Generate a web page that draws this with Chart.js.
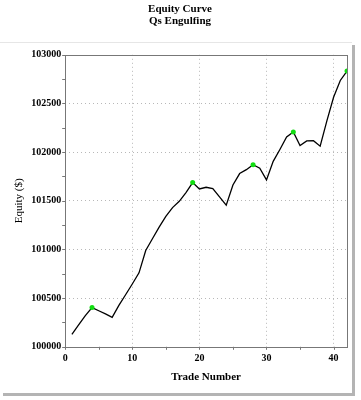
<!DOCTYPE html>
<html>
<head>
<meta charset="utf-8">
<script src="https://cdn.jsdelivr.net/npm/chart.js"></script>
<style>
  body { margin: 0; background: #fff; }
  #frame {
    position: absolute; left: 0; top: 42px; width: 352px; height: 350px;
    border-top: 1px solid #e6e6e6;
    box-shadow: 3px 3px 0 #b4b4b4;
  }
  #equity { position: absolute; left: 0; top: 0; }
</style>
</head>
<body>
<div id="frame"></div>
<canvas id="equity" width="361" height="400"></canvas>
<script>
// trade numbers and closing equity after each trade
var trades = [1, 2, 3, 4, 5, 6, 7, 8, 9, 10, 11, 12, 13, 14, 15, 16, 17, 18, 19, 20, 21,
              22, 23, 24, 25, 26, 27, 28, 29, 30, 31, 32, 33, 34, 35, 36, 37, 38, 39, 40, 41, 42];
var equity = [100127, 100225, 100320, 100403, 100370, 100338, 100303, 100425, 100535, 100645,
              100760, 100990, 101110, 101230, 101340, 101430, 101495, 101585, 101687, 101622,
              101639, 101625, 101540, 101456, 101663, 101780, 101820, 101871, 101835, 101715,
              101905, 102027, 102155, 102207, 102068, 102115, 102118, 102061, 102321, 102563,
              102736, 102833];
// trades marked with a green dot
var peakTrades = [4, 19, 28, 34, 42];

var xTicks = [0, 10, 20, 30, 40];
var yTicks = [100000, 100500, 101000, 101500, 102000, 102500, 103000];

var serif = 'Liberation Serif, Times New Roman, serif';

var points = [];
trades.forEach(function(t, i){
    points.push({x: t, y: equity[i]});
});

function isPeak(ctx){
    var p = ctx.raw;
    return p && peakTrades.indexOf(p.x) !== -1;
}

// box around plot + small outside tick marks
var frameBox = {
    id: 'frameBox',
    afterDraw: function(chart){
        var c = chart.ctx, a = chart.chartArea;
        var xs = chart.scales.x, ys = chart.scales.y;
        c.save();
        c.strokeStyle = '#777';
        c.lineWidth = 1;
        c.strokeRect(Math.round(a.left) + 0.5, Math.round(a.top) + 0.5,
                     Math.round(a.right - a.left), Math.round(a.bottom - a.top));
        c.beginPath();
        ys.ticks.forEach(function(t){
            var y = Math.round(ys.getPixelForValue(t.value)) + 0.5;
            c.moveTo(a.left - 3, y); c.lineTo(a.left, y);
        });
        xs.ticks.forEach(function(t){
            if (t.value % 5 !== 0) return;
            var x = Math.round(xs.getPixelForValue(t.value)) + 0.5;
            c.moveTo(x, a.bottom); c.lineTo(x, a.bottom + 3);
        });
        c.stroke();
        c.restore();
    }
};

new Chart(document.getElementById('equity'), {
    type: 'line',
    data: {
        datasets: [
            {
                label: 'Equity',
                data: points,
                borderColor: '#000',
                borderWidth: 1.3,
                tension: 0,
                pointRadius: function(ctx){ return isPeak(ctx) ? 2.5 : 0; },
                pointBackgroundColor: '#11dd11',
                pointBorderWidth: 0,
                pointHoverRadius: 0
            }
        ]
    },
    options: {
        responsive: false,
        animation: false,
        layout: { padding: { left: 13, right: 14, top: 0, bottom: 16 } },
        plugins: {
            legend: { display: false },
            tooltip: { enabled: false },
            title: {
                display: true,
                text: ['Equity Curve', 'Qs Engulfing'],
                color: '#000',
                font: { family: serif, size: 11, weight: 'bold', lineHeight: 1.15 },
                padding: { top: 2.5, bottom: 27 }
            }
        },
        scales: {
            x: {
                type: 'linear',
                min: 0,
                max: 42,
                ticks: {
                    stepSize: 5,
                    includeBounds: false,
                    autoSkip: false,
                    maxRotation: 0,
                    color: '#000',
                    padding: 6,
                    font: { family: serif, size: 10, weight: 'bold' },
                    callback: function(v){ return xTicks.indexOf(v) !== -1 ? v : ''; }
                },
                grid: {
                    drawTicks: false,
                    color: function(ctx){
                        var v = ctx.tick && ctx.tick.value;
                        return (xTicks.indexOf(v) !== -1 && v !== 0) ? '#b8b8b8' : 'rgba(0,0,0,0)';
                    }
                },
                border: { display: false, dash: [1, 3] },
                title: {
                    display: true,
                    text: 'Trade Number',
                    color: '#000',
                    font: { family: serif, size: 11, weight: 'bold' },
                    padding: { top: 0, bottom: 0 }
                }
            },
            y: {
                min: 100000,
                max: 103000,
                ticks: {
                    stepSize: 250,
                    autoSkip: false,
                    color: '#000',
                    padding: 4,
                    font: { family: serif, size: 10, weight: 'bold' },
                    callback: function(v){ return yTicks.indexOf(v) !== -1 ? v : ''; }
                },
                grid: {
                    drawTicks: false,
                    color: function(ctx){
                        var v = ctx.tick && ctx.tick.value;
                        return (yTicks.indexOf(v) !== -1 && v !== 100000 && v !== 103000) ? '#b8b8b8' : 'rgba(0,0,0,0)';
                    }
                },
                border: { display: false, dash: [1, 3] },
                title: {
                    display: true,
                    text: 'Equity ($)',
                    color: '#000',
                    font: { family: serif, size: 11 },
                    padding: { top: 0, bottom: 1 }
                }
            }
        }
    },
    plugins: [frameBox]
});
</script>
</body>
</html>
